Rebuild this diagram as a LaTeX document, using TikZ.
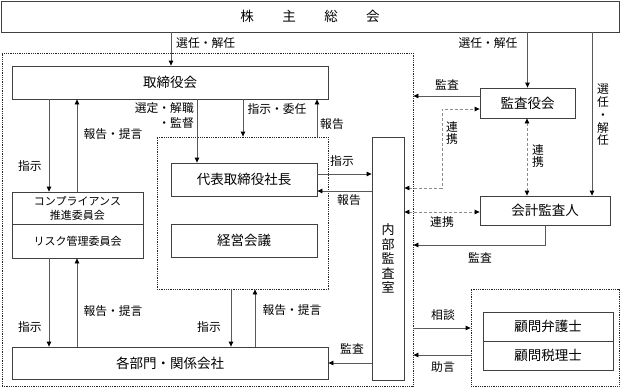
\documentclass[tikz,border=0pt]{standalone}
\usepackage{fontspec}
\setmainfont{Noto Sans CJK JP}
\usetikzlibrary{arrows.meta}

\begin{document}
\begin{tikzpicture}[x=1pt, y=-1pt,
    box/.style={draw=black!75, line width=0.8pt, inner sep=0pt, font=\fontsize{13.5}{15}\selectfont},
    gruppo/.style={draw=black!85, densely dotted, line width=0.8pt, inner sep=0pt},
    freccia/.style={draw=black!65, line width=0.8pt, -{Triangle[length=5pt,width=4.5pt,color=black]}},
    legame/.style={draw=black!45, densely dashed, line width=0.8pt,
        {Triangle[length=5pt,width=4.5pt,color=black]}-{Triangle[length=5pt,width=4.5pt,color=black]}},
    lbl/.style={font=\fontsize{11.8}{12.8}\selectfont, inner sep=0pt}]
    \useasboundingbox (0,0) rectangle (621,388);

    % Gruppi tratteggiati
    \node[gruppo, minimum width=411pt, minimum height=333pt] (grp) at (207.5,219.5) {};
    \node[gruppo, minimum width=171pt, minimum height=152pt] (interno) at (242.5,213) {};
    \node[gruppo, minimum width=148pt, minimum height=97pt] (consulenti) at (545,337.5) {};

    % Assemblea e organi
    \node[box, minimum width=618pt, minimum height=31pt] (soci) at (310,16.5) {株\hspace{28.5pt}主\hspace{28.5pt}総\hspace{28.5pt}会};
    \node[box, minimum width=316pt, minimum height=33pt] (cda) at (170,82.5) {取締役会};
    \node[box, minimum width=146pt, minimum height=33pt] (pres) at (244,179.5) {代表取締役社長};
    \node[box, minimum width=146pt, minimum height=33pt] (cons) at (244,240.5) {経営会議};
    \node[box, minimum width=131pt, minimum height=32pt, align=center, font=\fontsize{11}{14}\selectfont] (comp) at (77.5,208) {コンプライアンス\\推進委員会};
    \node[box, minimum width=131pt, minimum height=34pt, font=\fontsize{11}{14}\selectfont] (risk) at (77.5,241) {リスク管理委員会};
    \node[box, minimum width=316pt, minimum height=32pt] (rep) at (170,363) {各部門・関係会社};
    \node[box, minimum width=32pt, minimum height=243pt, align=center, font=\fontsize{13}{14.5}\selectfont] (audit) at (388,258.5) {内\\部\\監\\査\\室};
    \node[box, minimum width=95pt, minimum height=30pt] (sind) at (527.5,103) {監査役会};
    \node[box, minimum width=130pt, minimum height=29pt] (rev) at (545,210.5) {会計監査人};
    \node[box, minimum width=130pt, minimum height=29pt] (avv) at (548,326.5) {顧問弁護士};
    \node[box, minimum width=130pt, minimum height=29pt] (fisc) at (548,355.5) {顧問税理士};

    % Nomine dall'assemblea
    \draw[freccia] (soci.south -| 171,0) -- (cda.north -| 171,0);
    \node[lbl, anchor=west] (nom1) at (176,43) {選任・解任};
    \draw[freccia] (soci.south -| sind.north) -- (sind.north);
    \node[lbl] (nom2) at (488,43) {選任・解任};
    \draw[freccia] (soci.south -| 592,0) -- (rev.north -| 592,0);
    \node[lbl, align=center] (nom3) at (603,115) {選\\任\\・\\解\\任};

    % Consiglio e comitati
    \draw[freccia] (cda.south -| 49,0) -- (comp.north -| 49,0);
    \node[lbl] (ord1) at (30,166) {指示};
    \draw[freccia] (comp.north -| 77,0) -- (cda.south -| 77,0);
    \node[lbl] (rel1) at (113,134) {報告・提言};

    % Consiglio e presidente
    \draw[freccia] (cda.south -| 197,0) -- (pres.north -| 197,0);
    \node[lbl, align=right, anchor=east, font=\fontsize{11.8}{15}\selectfont] (sel) at (194,116) {選定・解職\\・監督};
    \draw[freccia] (cda.south -| 243,0) -- (interno.north -| 243,0);
    \node[lbl] (ord2) at (277,109) {指示・委任};
    \draw[freccia] (interno.north -| 317,0) -- (cda.south -| 317,0);
    \node[lbl] (rel2) at (332,124) {報告};

    % Presidente e audit interno
    \draw[freccia] (pres.east |- 0,174) -- (audit.west |- 0,174);
    \node[lbl] (ord3) at (342,161) {指示};
    \draw[freccia] (audit.west |- 0,191) -- (pres.east |- 0,191);
    \node[lbl] (rel3) at (349,200) {報告};

    % Comitati e reparti
    \draw[freccia] (risk.south -| 49,0) -- (rep.north -| 49,0);
    \node[lbl] (ord4) at (30,327) {指示};
    \draw[freccia] (rep.north -| 77,0) -- (risk.south -| 77,0);
    \node[lbl] (rel4) at (113,311) {報告・提言};
    \draw[freccia] (interno.south -| 231,0) -- (rep.north -| 231,0);
    \node[lbl] (ord5) at (209,327) {指示};
    \draw[freccia] (rep.north -| 255,0) -- (interno.south -| 255,0);
    \node[lbl] (rel5) at (292,310) {報告・提言};
    \draw[freccia] (audit.west |- 0,363) -- (rep.east |- 0,363);
    \node[lbl] (aud1) at (352,349) {監査};

    % Sindaci e revisori
    \draw[freccia] (sind.west |- 0,96) -- (grp.east |- 0,96);
    \node[lbl] (aud2) at (447,85) {監査};
    \draw[legame] (audit.east |- 0,188) -| (442,109) -- (sind.west |- 0,109);
    \node[lbl, align=center] (col1) at (452,133) {連\\携};
    \draw[legame] (sind.south -| 527,0) -- (rev.north -| 527,0);
    \node[lbl, align=center] (col2) at (538,156) {連\\携};
    \draw[legame] (audit.east |- 0,212) -- (rev.west |- 0,212);
    \node[lbl] (col3) at (442,222) {連携};
    \draw[freccia] (rev.south -| 545,0) |- (grp.east |- 0,245);
    \node[lbl] (aud3) at (480,258) {監査};

    % Consulenti esterni
    \draw[freccia] (grp.east |- 0,328) -- (consulenti.west |- 0,328);
    \node[lbl] (cons1) at (443,315) {相談};
    \draw[freccia] (consulenti.west |- 0,355) -- (grp.east |- 0,355);
    \node[lbl] (cons2) at (443,367) {助言};

\end{tikzpicture}
\end{document}
